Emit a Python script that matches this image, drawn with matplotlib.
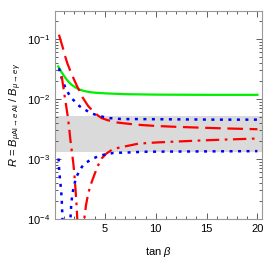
import numpy as np
import matplotlib
matplotlib.use("Agg")
import matplotlib.pyplot as plt
from matplotlib.ticker import LogLocator, MultipleLocator, NullFormatter

plt.rcParams["font.family"] = ["Liberation Sans", "DejaVu Sans"]
plt.rcParams["mathtext.fontset"] = "custom"
plt.rcParams["mathtext.rm"] = "Liberation Sans"
plt.rcParams["mathtext.it"] = "Liberation Sans:italic"

# green solid
x_green = [0.42, 0.7, 0.92, 1.2, 1.41, 1.7, 2.0, 2.39, 2.7, 3.0, 3.5, 4.03, 5.0, 7.0, 10, 15, 20]
y_green = [0.0347, 0.0288, 0.0251, 0.0216, 0.0195, 0.0174, 0.0160, 0.0146, 0.0140, 0.0135,
           0.0130, 0.0127, 0.0124, 0.0120, 0.0118, 0.0117, 0.0117]

# red dashed
x_red_dash = [0.49, 0.7, 0.9, 1.1, 1.31, 1.55, 1.8, 2.05, 2.29, 2.55, 2.8, 3.1, 3.37, 3.7, 4.0,
              4.35, 4.69, 5.2, 5.7, 6.3, 6.82, 8.16, 10, 12, 14.7, 17, 20]
y_red_dash = [0.1175, 0.0891, 0.0684, 0.0513, 0.0394, 0.0309, 0.0245, 0.0197, 0.0160, 0.0132,
              0.0107, 0.00891, 0.00759, 0.00661, 0.00589, 0.00525, 0.00479, 0.00447, 0.00422,
              0.00403, 0.00394, 0.00372, 0.00355, 0.00343, 0.00331, 0.00322, 0.00313]

# blue dotted, upper
x_blue_up = [0.49, 0.75, 1.08, 1.3, 1.5, 1.75, 2.07, 2.5, 3.05, 3.7, 4.36, 5.0, 5.5, 6.66, 8.16, 12, 16, 20]
y_blue_up = [0.0324, 0.0224, 0.0160, 0.0135, 0.0117, 0.0102, 0.00902, 0.00759, 0.00661, 0.00575,
             0.00525, 0.00495, 0.00479, 0.00462, 0.00462, 0.00457, 0.00452, 0.00452]

# red dash-dot, two branches (sign change between)
x_red_dd = [0.76, 0.9, 1.0, 1.1, 1.2, 1.3, 1.4, 1.5, 1.6, 1.7, 1.8, 1.9, 2.0, 2.07, 2.15, 2.23, 2.29, 2.35,
            np.nan,
            2.9, 2.98, 3.15, 3.37, 3.7, 4.03, 4.35, 4.69, 5.15, 5.67, 6.3, 7.0, 8.3, 10, 12, 14.7, 17, 20]
y_red_dd = [0.024, 0.0166, 0.0126, 0.0098, 0.0076, 0.0059, 0.00447, 0.00316, 0.00219, 0.00158,
            0.00117, 0.00085, 0.00058, 0.0004, 0.00026, 0.00016, 0.0001, 0.00003,
            np.nan,
            0.00005, 0.0001, 0.00017, 0.00027, 0.00041, 0.00058, 0.00079, 0.00102, 0.00123,
            0.00141, 0.00153, 0.00162, 0.0018, 0.00188, 0.00195, 0.00204, 0.00211, 0.00219]

# blue dotted, lower, two branches
x_blue_lo = [0.45, 0.5, 0.58, 0.68, 0.76, 0.83, 0.88,
             np.nan,
             1.55, 1.62, 1.7, 1.8, 1.95, 2.2, 2.5, 2.75, 3.05, 3.45, 3.87, 4.35, 4.85, 5.83,
             7.64, 8.78, 12, 20]
y_blue_lo = [0.00102, 0.0007, 0.00048, 0.00033, 0.00022, 0.000107, 0.00004,
             np.nan,
             0.00004, 0.0001, 0.00018, 0.00025, 0.00035, 0.0005, 0.00063, 0.00074, 0.00085,
             0.00093, 0.00102, 0.00111, 0.00117, 0.00126, 0.00129, 0.00132, 0.00133, 0.00135]

band_lo, band_hi = 1.29e-3, 5.2e-3

fig = plt.figure(figsize=(2.74, 2.74), dpi=100)
ax = fig.add_axes([0.2007, 0.2007, 0.958 - 0.2007, 0.961 - 0.2007])

ax.axhspan(band_lo, band_hi, color="#dadada", lw=0, zorder=0)
ax.plot(x_green, y_green, color="#00ee00", lw=1.6)
ax.plot(x_red_dash, y_red_dash, color="red", lw=1.6, dashes=(7, 3))
ax.plot(x_blue_up, y_blue_up, color="blue", lw=1.8, dashes=(1.2, 2.2))
ax.plot(x_red_dd, y_red_dd, color="red", lw=1.6, dashes=(6, 2.5, 1.2, 2.5))
ax.plot(x_blue_lo, y_blue_lo, color="blue", lw=1.8, dashes=(1.2, 2.2))

ax.set_yscale("log")
ax.set_xlim(0.1, 20.5)
ax.set_ylim(1e-4, 0.295)
ax.xaxis.set_major_locator(MultipleLocator(5))
ax.xaxis.set_minor_locator(MultipleLocator(1))
ax.set_xticks([5, 10, 15, 20])
ax.yaxis.set_major_locator(LogLocator(base=10, numticks=10))
ax.yaxis.set_minor_locator(LogLocator(base=10, subs=np.arange(2, 10), numticks=10))
ax.yaxis.set_minor_formatter(NullFormatter())

ax.tick_params(which="both", direction="in", top=True, right=True,
               labelsize=8, color="#444444", width=0.6)
ax.tick_params(which="major", length=4)
ax.tick_params(which="minor", length=2)
for s in ax.spines.values():
    s.set_color("#999999")
    s.set_linewidth(0.8)

ax.set_xlabel(r"tan $\beta$", fontsize=8, labelpad=8)
ax.set_ylabel(r"$R$ = $B_{\mu \mathrm{Al}\rightarrow e\, \mathrm{Al}}\ /\ B_{\mu\rightarrow e\gamma}$",
              fontsize=8, labelpad=2)

fig.savefig("out.png", dpi=100)
